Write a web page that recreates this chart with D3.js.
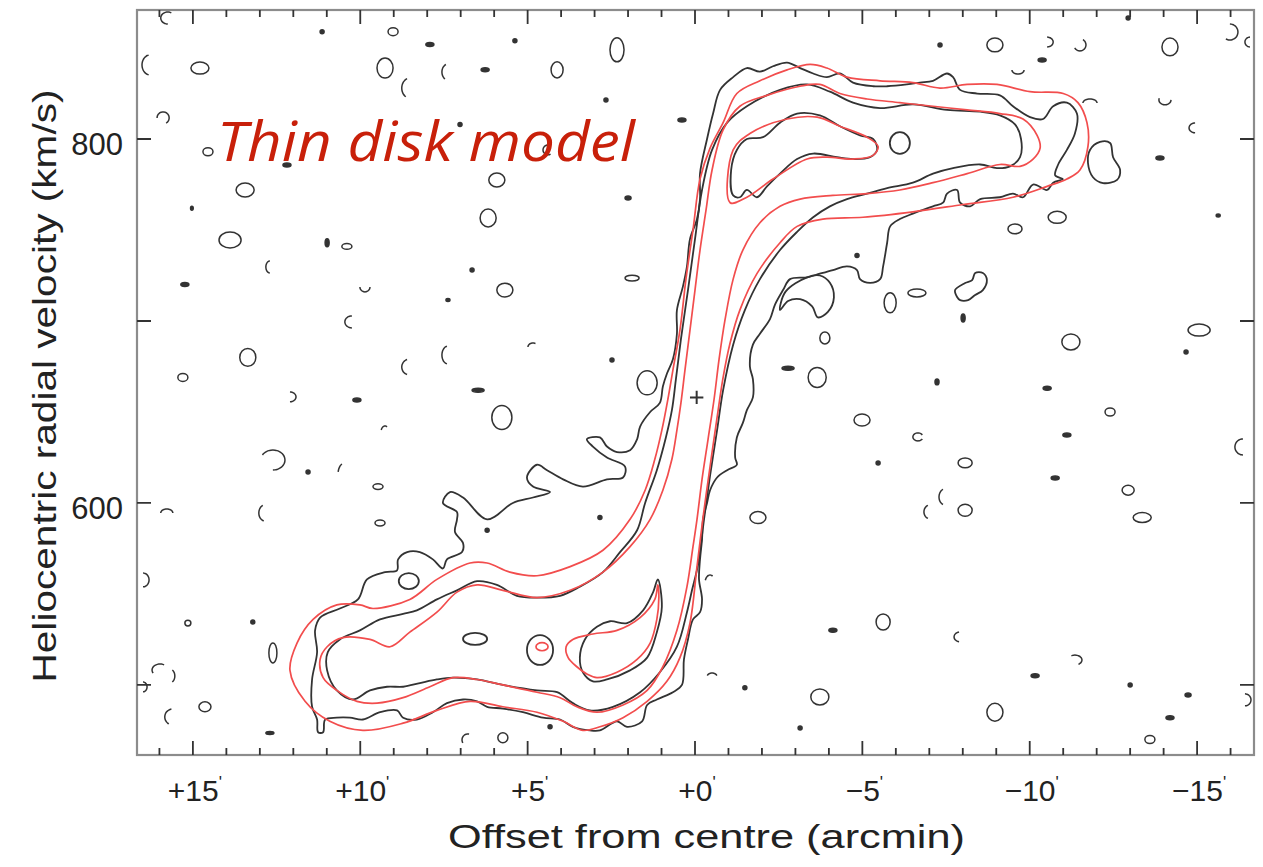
<!DOCTYPE html>
<meta charset="utf-8">
<style>
body { margin: 0; background: #fff; }
svg { display: block; font-family: "Liberation Sans", Arial, sans-serif; }
</style>
<body>
<script src="https://d3js.org/d3.v7.min.js"></script>
<script>

// axis ticks
var xTicks = [15, 10, 5, 0, -5, -10, -15];
var xTickLabels = ["+15", "+10", "+5", "+0", "\u22125", "\u221210", "\u221215"];
var yTicks = [500, 600, 700, 800];
var yTickLabels = ["", "600", "", "800"];

// model (thin disk) contours, [offset arcmin, velocity km/s]
var modelOuter = [[-0.84,809],[-1.25,825],[-1.94,832],[-2.75,838],[-3.44,841],[-3.94,839],[-4.54,834],[-5.53,832],[-6.51,831],[-7.32,828],[-8.13,830],[-9.02,830],[-10.01,826],[-11.0,825],[-11.44,820],[-11.71,809],[-11.74,796],[-11.5,783],[-11.11,778],[-10.52,774],[-9.5,768],[-8.01,764],[-6.51,760],[-5.02,757],[-3.82,756],[-3.05,752],[-2.54,743],[-1.85,726],[-1.34,706],[-1.05,688],[-0.84,669],[-0.66,647],[-0.45,620],[-0.24,592],[-0.06,565],[0.15,534],[0.45,515],[0.84,502],[1.43,491],[2.15,482],[2.84,477],[3.35,475],[3.94,480],[4.72,485],[5.74,488],[6.72,491],[7.71,486],[8.72,479],[9.92,475],[10.91,480],[11.65,491],[12.1,508],[11.89,523],[11.41,536],[10.7,544],[10.01,544],[9.62,542],[8.52,547],[7.71,558],[6.72,567],[6.21,567],[5.53,562],[4.72,560],[3.73,565],[2.75,574],[1.94,591],[1.49,607],[1.2,624],[0.99,640],[0.81,657],[0.66,673],[0.45,695],[0.27,723],[0.06,750],[-0.15,778],[-0.45,795]];

var modelMiddle = [[-0.84,805],[-1.34,818],[-2.15,824],[-3.14,829],[-3.73,830],[-4.33,825],[-5.14,822],[-6.12,820],[-7.11,818],[-8.13,816],[-9.11,814],[-9.8,811],[-10.22,802],[-10.31,795],[-10.1,789],[-9.71,785],[-9.11,786],[-8.13,781],[-7.11,776],[-6.12,772],[-5.14,770],[-4.12,769],[-3.14,767],[-2.54,763],[-1.94,754],[-1.43,739],[-1.14,723],[-0.9,701],[-0.72,679],[-0.57,657],[-0.39,635],[-0.21,613],[-0.06,591],[0.06,576],[0.24,554],[0.54,530],[0.96,510],[1.43,497],[2.15,489],[2.93,485],[3.53,488],[4.03,493],[4.72,496],[5.74,500],[6.51,503],[7.23,504],[7.92,499],[8.72,493],[9.5,490],[10.1,491],[10.7,497],[11.11,504],[11.2,514],[10.99,521],[10.52,526],[9.71,525],[9.11,521],[8.52,529],[7.71,540],[7.11,551],[6.51,555],[5.74,552],[4.72,548],[3.73,552],[2.75,562],[1.94,576],[1.34,591],[0.96,607],[0.69,624],[0.54,640],[0.42,655],[0.3,673],[0.15,695],[0,717],[-0.15,739],[-0.33,761],[-0.51,783]];

var modelInnerUpper = [[-1.05,765],[-1.14,794],[-1.64,803],[-2.75,811],[-3.65,812],[-4.33,807],[-5.14,801],[-5.47,796],[-5.32,791],[-4.72,789],[-3.94,790],[-3.35,789],[-2.33,778],[-1.55,768]];

var modelInnerLower = [[1.11,555],[1.2,547],[1.64,537],[2.33,530],[3.05,528],[3.65,525],[3.85,521],[3.79,515],[3.53,510],[3.23,506],[2.93,504],[2.33,507],[1.73,514],[1.34,523],[1.14,536],[1.08,548]];

// [offset, velocity, half-width arcmin, half-height km/s]
var modelInnerTiny = [[4.57,521,0.18,2.2]];

// observed HI contours
var obsOuter = [[-0.54,814],[-0.75,827],[-1.14,834],[-1.55,839],[-1.94,837],[-2.33,840],[-2.75,842],[-3.14,839],[-3.53,836],[-3.94,834],[-4.33,836],[-4.72,831],[-5.32,829],[-5.74,829],[-6.33,830],[-6.72,831],[-7.11,832],[-7.53,836],[-7.71,834],[-7.92,827],[-8.43,825],[-9.11,824],[-9.5,818],[-10.01,812],[-10.4,811],[-10.7,818],[-11.11,820],[-11.41,814],[-11.35,803],[-11.11,794],[-10.85,786],[-10.76,780],[-10.99,778],[-10.7,776],[-10.52,772],[-10.1,775],[-9.8,768],[-9.5,770],[-9.11,768],[-8.52,767],[-8.22,763],[-7.92,765],[-7.83,772],[-7.53,770],[-7.41,765],[-7.11,763],[-6.51,759],[-6.12,756],[-5.83,752],[-5.74,743],[-5.62,730],[-5.53,723],[-5.23,721],[-4.93,723],[-4.84,728],[-4.54,730],[-4.12,728],[-3.73,726],[-3.35,724],[-2.84,723],[-2.63,717],[-2.39,709],[-2.24,701],[-1.94,693],[-1.73,687],[-1.64,675],[-1.73,668],[-1.73,658],[-1.55,651],[-1.43,644],[-1.25,636],[-1.2,625],[-1.25,621],[-0.96,618],[-0.66,614],[-0.45,607],[-0.36,600],[-0.24,591],[-0.21,580],[-0.15,569],[-0.12,558],[-0.21,547],[-0.15,540],[0.06,536],[0.21,525],[0.33,514],[0.39,500],[0.66,496],[1.14,492],[1.43,489],[1.58,480],[2.03,477],[2.33,480],[2.84,475],[3.14,475],[3.65,477],[4.03,481],[4.54,482],[5.14,485],[5.74,487],[6.21,488],[6.51,491],[6.93,492],[7.41,490],[7.83,485],[8.31,481],[8.72,482],[8.9,486],[9.41,485],[9.92,481],[10.31,482],[10.7,482],[11.05,481],[11.11,474],[11.26,474],[11.29,481],[11.44,488],[11.44,503],[11.29,518],[11.35,530],[11.2,537],[10.61,542],[10.07,547],[9.8,558],[9.26,562],[8.9,563],[8.87,569],[8.6,573],[8.22,573],[7.83,569],[7.53,564],[7.41,569],[6.96,573],[6.93,578],[7.17,584],[7.11,591],[7.11,595],[7.53,600],[7.32,606],[6.93,603],[6.21,591],[5.44,600],[4.84,603],[4.33,606],[4.84,609],[5.02,614],[4.72,621],[4.42,618],[3.94,613],[3.35,609],[2.63,613],[2.15,614],[2.09,620],[2.63,625],[3.05,631],[3.23,635],[2.84,636],[2.63,631],[2.33,628],[1.94,629],[1.73,635],[1.64,642],[1.34,650],[1.05,655],[0.96,664],[0.84,671],[0.66,679],[0.54,693],[0.54,706],[0.36,719],[0.24,730],[0.15,745],[-0.06,756],[-0.15,767],[-0.15,781],[-0.36,800]];

var obsMiddle = [[-0.96,809],[-1.55,818],[-2.54,827],[-3.35,830],[-4.03,826],[-4.72,820],[-5.53,817],[-6.51,819],[-7.53,816],[-8.52,815],[-9.11,813],[-9.56,808],[-9.74,800],[-9.71,790],[-9.41,785],[-9.02,784],[-8.52,786],[-7.71,784],[-7.11,781],[-6.51,776],[-5.74,773],[-5.14,770],[-4.54,767],[-4.03,763],[-3.53,757],[-3.05,749],[-2.54,739],[-1.94,723],[-1.49,706],[-1.14,687],[-0.84,662],[-0.66,640],[-0.45,615],[-0.27,591],[-0.09,566],[0.09,552],[0.24,540],[0.54,521],[1.05,507],[1.64,496],[2.45,488],[3.14,486],[3.65,490],[4.12,496],[4.72,497],[5.74,500],[6.51,503],[7.23,504],[7.71,503],[8.22,501],[8.72,499],[9.2,499],[9.71,497],[10.22,492],[10.7,497],[10.99,508],[10.97,518],[10.61,525],[10.01,530],[9.41,536],[8.72,539],[8.31,541],[7.71,547],[7.11,552],[6.51,557],[5.92,555],[5.32,549],[4.72,548],[4.03,549],[3.44,554],[2.75,562],[2.24,573],[1.73,585],[1.49,600],[1.14,618],[0.87,636],[0.69,651],[0.57,668],[0.42,690],[0.21,717],[0,745],[-0.21,772],[-0.51,794]];

var obsInnerUpper = [[-1.14,769],[-1.08,783],[-1.25,794],[-1.55,800],[-2.03,801],[-2.54,809],[-3.05,814],[-3.73,813],[-4.33,807],[-4.93,802],[-5.32,800],[-5.44,794],[-5.23,790],[-4.72,789],[-4.24,790],[-3.53,792],[-3.05,789],[-2.54,781],[-2.15,774],[-1.85,768],[-1.55,772],[-1.34,768]];

var obsInnerLower = [[1.11,558],[0.99,543],[1.14,529],[1.43,515],[1.94,508],[2.63,503],[3.05,502],[3.35,507],[3.44,515],[3.29,525],[2.93,532],[2.54,535],[2.03,534],[1.55,541],[1.25,551]];

var obsIslandA = [[-3.35,724],[-3.73,725],[-4.03,721],[-4.15,713],[-3.97,705],[-3.67,702],[-3.5,708],[-3.14,712],[-2.78,711],[-2.54,706],[-2.7,716]];
var obsIslandB = [[-11.8,794],[-12.1,798.4],[-12.4,797.8],[-12.49,790],[-12.7,783],[-12.61,777.5],[-12.19,775.8],[-11.89,779],[-11.74,786.8]];
var obsIslandC = [[-7.83,713.2],[-7.77,717],[-8.07,720.9],[-8.28,722.5],[-8.37,726.4],[-8.6,726.4],[-8.72,722.5],[-8.6,717],[-8.37,714.3],[-8.16,711.5],[-7.92,711.5]];

// inner-level small observed blobs [offset, velocity, rx, ry]
var obsInnerBlobs = [[-6.12,797.8,0.3,6.0],[4.63,519.2,0.39,8.2],[6.57,525.3,0.36,3.3],[8.55,557.1,0.3,4.4]];

// noise islands [offset, velocity, rx arcmin, ry km/s]
var noiseBlobs = [[14.79,839,0.27,3.3],[14.55,793,0.15,2.2],[13.44,772,0.27,3.8],[13.89,744.5,0.33,4.4],[15.24,720,0.12,1.1],[10.99,743,0.06,2.2],[10.4,741,0.15,1.6],[9.02,859,0.15,2.2],[9.26,839,0.24,5.5],[7.92,852,0.12,1.1],[6.27,838,0.12,1.1],[5.38,854,0.06,1.1],[4.12,838,0.18,4.4],[2.33,849,0.21,6.6],[2.66,821.5,0.06,1.1],[5.92,777.5,0.24,3.8],[6.18,756.6,0.24,4.9],[7.02,808,0.06,1.1],[0.39,810.5,0.12,1.1],[2.0,767.6,0.09,1.1],[5.68,717,0.24,3.8],[6.66,728,0.06,1.1],[7.38,711.5,0.06,0.8],[1.88,723.6,0.21,1.6],[13.36,680,0.24,4.9],[15.3,669,0.15,2.2],[10.1,656.6,0.12,1.1],[6.48,662,0.18,1.1],[1.43,666,0.3,6.6],[5.77,647,0.3,6.6],[2.48,678.6,0.06,1.1],[9.47,609,0.15,1.6],[9.41,589,0.15,1.6],[11.56,617,0.06,1.1],[6.21,585,0.06,1.1],[2.84,592,0.06,1.1],[13.21,534.6,0.06,1.1],[12.61,517.6,0.12,5.5],[14.64,488,0.18,2.7],[12.7,473.6,0.12,0.8],[5.74,471,0.15,2.7],[4.33,477,0.06,1.1],[-1.88,592,0.24,3.3],[-3.88,690.7,0.15,3.3],[-2.78,674,0.18,1.1],[-3.65,669,0.27,5.5],[-4.99,645.6,0.24,3.3],[-5.47,622,0.06,1.1],[-8.07,622,0.21,2.7],[-8.07,596,0.21,3.3],[-5.62,534.6,0.21,4.4],[-4.12,530,0.12,1.1],[-3.73,493.4,0.27,4.4],[-3.14,476.4,0.06,1.1],[-1.49,498.4,0.06,1.1],[-8.96,485,0.24,4.9],[-10.16,505,0.12,1.1],[-13.0,500,0.06,1.1],[-14.73,494.5,0.09,1.1],[-14.19,482,0.12,1.1],[-13.59,470,0.15,2.2],[-11.23,688.5,0.27,4.4],[-15.06,695,0.33,3.3],[-14.67,683,0.06,1.1],[-12.4,650,0.15,2.2],[-11.11,637.4,0.12,1.1],[-10.76,613.7,0.12,1.1],[-12.94,607,0.18,2.7],[-13.36,592,0.27,2.7],[-10.82,757,0.27,3.3],[-9.56,750.6,0.21,2.7],[-6.63,715.4,0.27,2.2],[-5.83,710,0.18,5.5],[-4.84,736,0.06,1.1],[-8.01,701.7,0.06,2.2],[-8.96,851.7,0.24,3.8],[-7.32,851.7,0.06,1.1],[-10.37,843.4,0.12,1.1],[-14.19,850.6,0.24,4.9],[-13.89,789.6,0.12,1.1],[-15.63,758,0.06,0.8],[-12.94,866.5,0.06,1.1],[11.14,859,0.06,1.1],[15.03,762,0.04,1.1],[12.19,785.7,0.12,1.1],[15.15,534,0.09,1.6],[-10.52,663,0.12,1.1],[-7.23,666.5,0.06,1.6]];

// noise arcs [offset, velocity, rx, ry, startDeg, endDeg] (angles on screen, 0 = right, 90 = down)
var noiseArcs = [[15.75,866.5,0.21,3.3,90,300],[16.28,840.7,0.24,5.5,100,260],[15.89,811.6,0.18,3.3,180,420],[8.52,828,0.24,5.5,120,250],[7.38,836.8,0.18,4.4,120,250],[4.39,794,0.15,2.7,60,300],[10.25,699.5,0.21,3.3,90,270],[8.52,674.7,0.24,4.4,110,250],[7.38,681.3,0.18,4.9,100,260],[12.1,658.3,0.18,2.7,-90,90],[12.61,623.6,0.36,5.5,-150,90],[10.52,614.8,0.15,6.6,200,260],[12.85,594.5,0.18,4.4,100,250],[15.78,594.5,0.18,2.2,180,360],[16.49,557.7,0.18,3.8,-90,90],[15.98,508.2,0.24,3.3,150,300],[15.69,504.9,0.15,3.8,-60,60],[15.6,482.4,0.24,4.4,120,260],[16.49,498.9,0.12,2.7,-90,90],[6.78,469.8,0.18,3.3,150,280],[-0.45,556,0.15,4.4,200,300],[-0.51,504.4,0.15,2.2,200,340],[-10.52,853.3,0.18,2.7,-90,90],[-11.5,851.7,0.18,3.3,-60,150],[-9.65,837.9,0.18,2.2,0,180],[-15.98,858.8,0.24,4.4,-90,120],[-16.58,853.3,0.15,2.7,90,270],[-14.04,821.5,0.18,2.7,0,200],[-14.94,806.1,0.18,2.7,90,270],[-11.8,819.8,0.21,2.2,180,360],[-16.37,630.8,0.24,4.4,90,270],[-6.66,636.3,0.15,2.2,30,330],[-7.47,603.3,0.18,4.4,110,250],[-7.02,595.1,0.18,3.8,110,250],[-7.92,526.4,0.18,2.7,100,260],[-11.35,513.7,0.21,2.7,-120,60],[-16.43,491.8,0.18,3.3,-90,90],[12.7,729.7,0.12,3.3,90,270],[9.86,718.7,0.15,2.7,0,180],[9.26,639,0.12,3.3,200,300],[4.84,685.7,0.15,2.2,180,300]];

// centre marker
var centre = [-0.05, 658];

var W = 1263, H = 867;
var box = {left: 137, right: 1254, top: 10, bottom: 755};

var x = d3.scaleLinear().domain([16.67, -16.70]).range([box.left, box.right]);
var y = d3.scaleLinear().domain([461.5, 870.9]).range([box.bottom, box.top]);

var BLACK = "#333", RED = "#f24d4d";

var svg = d3.select("body").append("svg")
    .attr("width", W)
    .attr("height", H);

svg.append("defs").append("clipPath").attr("id", "plotclip")
  .append("rect")
    .attr("x", box.left).attr("y", box.top)
    .attr("width", box.right - box.left).attr("height", box.bottom - box.top);

var plot = svg.append("g").attr("clip-path", "url(#plotclip)");

var closedLine = d3.line()
    .x(function(d) { return x(d[0]); })
    .y(function(d) { return y(d[1]); })
    .curve(d3.curveCatmullRomClosed.alpha(0.5));

var openLine = d3.line()
    .x(function(d) { return x(d[0]); })
    .y(function(d) { return y(d[1]); })
    .curve(d3.curveCatmullRom.alpha(0.5));

function drawEllipses(g, data, color, width) {
  g.selectAll(null)
    .data(data)
    .enter().append("ellipse")
      .attr("cx", function(d) { return x(d[0]); })
      .attr("cy", function(d) { return y(d[1]); })
      .attr("rx", function(d) { return Math.abs(x(d[0] + d[2]) - x(d[0])); })
      .attr("ry", function(d) { return Math.abs(y(d[1] + d[3]) - y(d[1])); })
      .attr("fill", function(d) {
        var rx = Math.abs(x(d[0] + d[2]) - x(d[0])), ry = Math.abs(y(d[1] + d[3]) - y(d[1]));
        return (rx <= 3 || ry <= 2.2) ? color : "none";
      })
      .attr("stroke", color)
      .attr("stroke-width", width);
}

// arc points for partial noise contours
function arcPoints(a) {
  return d3.range(a[4], a[5] + 0.1, 10).map(function(t) {
    var r = t * Math.PI / 180;
    return [a[0] - a[2] * Math.cos(r), a[1] - a[3] * Math.sin(r)];
  });
}

// observed (black)
var obs = plot.append("g")
    .attr("fill", "none")
    .attr("stroke", BLACK)
    .attr("stroke-width", 1.8)
    .attr("stroke-linejoin", "round");

[obsOuter, obsMiddle, obsInnerUpper, obsInnerLower, obsIslandA, obsIslandB, obsIslandC].forEach(function(c) {
  obs.append("path").attr("d", closedLine(c));
});

noiseArcs.forEach(function(a) {
  obs.append("path").attr("d", openLine(arcPoints(a))).attr("stroke-width", 1.5);
});

drawEllipses(obs, obsInnerBlobs, BLACK, 1.8);
drawEllipses(obs, noiseBlobs, BLACK, 1.5);

// centre cross
obs.append("path")
    .attr("d", "M" + x(centre[0] + 0.2) + "," + y(centre[1]) + "H" + x(centre[0] - 0.2)
      + "M" + x(centre[0]) + "," + y(centre[1] + 3.6) + "V" + y(centre[1] - 3.6))
    .attr("stroke-width", 2);

// model (red)
var model = plot.append("g")
    .attr("fill", "none")
    .attr("stroke", RED)
    .attr("stroke-width", 1.7);

[modelOuter, modelMiddle, modelInnerUpper, modelInnerLower].forEach(function(c) {
  model.append("path").attr("d", closedLine(c));
});
drawEllipses(model, modelInnerTiny, RED, 1.7);
model.selectAll("ellipse").attr("fill", "none");

// frame and ticks
var axes = svg.append("g");

axes.append("rect")
    .attr("x", box.left).attr("y", box.top)
    .attr("width", box.right - box.left).attr("height", box.bottom - box.top)
    .attr("fill", "none")
    .attr("stroke", "#8c8c8c")
    .attr("stroke-width", 2.2);

var minorX = d3.range(-16, 17);
axes.selectAll(".xt")
  .data(minorX)
  .enter().append("path")
    .attr("d", function(d) {
      var len = (d % 5 === 0) ? 14 : 7;
      return "M" + x(d) + "," + box.bottom + "v" + (-len) + "M" + x(d) + "," + box.top + "v" + len;
    })
    .attr("stroke", "#333")
    .attr("stroke-width", 1.8);

axes.selectAll(".yt")
  .data(yTicks)
  .enter().append("path")
    .attr("d", function(d) {
      return "M" + box.left + "," + y(d) + "h14M" + box.right + "," + y(d) + "h-14";
    })
    .attr("stroke", "#333")
    .attr("stroke-width", 1.8);

// tick labels
var xl = axes.selectAll(".xl")
  .data(xTicks)
  .enter().append("text")
    .attr("x", function(d) { return x(d) + 2; })
    .attr("y", 801)
    .attr("text-anchor", "middle")
    .attr("font-size", 30)
    .attr("fill", "#222");
xl.append("tspan").text(function(d, i) { return xTickLabels[i]; });
xl.append("tspan").attr("font-size", 17).attr("dy", -13).text("'");

axes.selectAll(".yl")
  .data(yTicks)
  .enter().append("text")
    .attr("x", 123)
    .attr("y", function(d) { return y(d) + 16; })
    .attr("text-anchor", "end")
    .attr("font-size", 31)
    .attr("fill", "#222")
    .text(function(d, i) { return yTickLabels[i]; });

// axis titles
svg.append("text")
    .attr("x", 448)
    .attr("y", 848)
    .attr("font-size", 34)
    .attr("fill", "#222")
    .attr("textLength", 517)
    .attr("lengthAdjust", "spacingAndGlyphs")
    .text("Offset from centre (arcmin)");

svg.append("text")
    .attr("transform", "translate(56,386) rotate(-90)")
    .attr("text-anchor", "middle")
    .attr("font-size", 34)
    .attr("fill", "#222")
    .attr("textLength", 593)
    .attr("lengthAdjust", "spacingAndGlyphs")
    .text("Heliocentric radial velocity (km/s)");

// annotation
svg.append("text")
    .attr("x", 217)
    .attr("y", 161)
    .attr("font-family", "'Open Sans', 'Noto Sans', sans-serif")
    .attr("font-style", "italic")
    .attr("font-size", 54)
    .attr("fill", "#c8200a")
    .attr("textLength", 418)
    .attr("lengthAdjust", "spacingAndGlyphs")
    .text("Thin disk model");

</script>
